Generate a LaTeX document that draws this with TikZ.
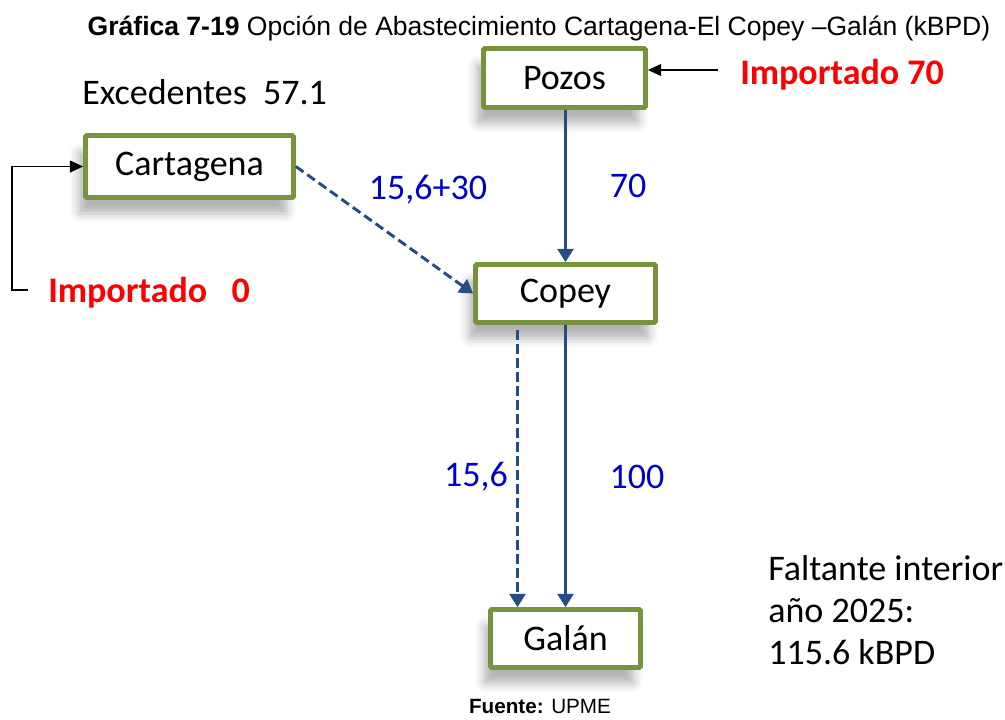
\documentclass[tikz,border=0pt]{standalone}
\usepackage{fontspec}
\setmainfont{Carlito}
\newfontfamily\arialfont{Liberation Sans}
\usetikzlibrary{arrows.meta,shadows.blur}

\definecolor{boxgreen}{RGB}{119,147,60}
\definecolor{flowblue}{RGB}{37,76,135}
\definecolor{lblblue}{RGB}{0,0,204}

\begin{document}
\begin{tikzpicture}[
  x=0.75pt, y=-0.75pt,
  font=\fontsize{27}{32}\selectfont,
  box/.style={draw=boxgreen, line width=3.6pt, fill=white, rounded corners=1pt,
    inner sep=0pt,
    blur shadow={shadow xshift=-5pt, shadow yshift=-12pt, shadow blur radius=7pt,
      shadow opacity=30}},
  lbl/.style={text=lblblue, inner sep=0pt},
  imp/.style={text=red, font=\fontsize{27}{32}\selectfont\bfseries, inner sep=0pt, anchor=west},
  note/.style={inner sep=0pt},
  arr/.style={-{Triangle[length=10pt, width=12pt]}, line width=2.2pt, draw=flowblue},
  darr/.style={arr, dash pattern=on 7pt off 3.5pt},
  blk/.style={-{Triangle[length=10pt, width=9pt]}, line width=1.1pt, draw=black},
]
  \useasboundingbox (0,0) rectangle (1005,719);

  % ===== title =====
  \node[note, font=\arialfont\fontsize{19.9}{23}\selectfont] (title) at (539,28)
    {\textbf{Gráfica 7-19} Opción de Abastecimiento Cartagena-El Copey –Galán (kBPD)};

  % ===== boxes =====
  \node[box, minimum width=121.5pt, minimum height=44.25pt] (pozos) at (564.5,78) {Pozos};
  \node[box, minimum width=156pt, minimum height=46.5pt] (cart) at (189.5,166.5) {Cartagena};
  \node[box, minimum width=135pt, minimum height=43.5pt] (copey) at (565.5,293.5) {Copey};
  \node[box, minimum width=112.5pt, minimum height=43.5pt] (galan) at (565.5,638.5) {Galán};

  % ===== flows =====
  \draw[arr] (copey.north |- pozos.south) -- (copey.north);
  \draw[darr] (cart.east) -- (copey.west);
  \draw[darr] ([xshift=-36pt,yshift=-4pt]copey.south) -- ([xshift=-36pt]galan.north);
  \draw[arr] (copey.south) -- (galan.north);

  \node[lbl] (l1) at (428,190) {15,6+30};
  \node[lbl] (l2) at (628,186) {70};
  \node[lbl] (l3) at (476,477) {15,6};
  \node[lbl] (l4) at (637,477) {100};

  % ===== imports =====
  \node[imp] (imp70) at (740,75) {Importado 70};
  \coordinate (s70) at (718,70);
  \draw[blk] (s70) -- (s70 -| pozos.east);

  \node[imp] (imp0) at (48,293) {Importado\ \ \ 0};
  \coordinate (s0) at (28,290);
  \draw[blk] (s0) -- ++(-16,0) |- (cart.west);

  % ===== notes =====
  \node[note, anchor=west] (exc) at (82,92) {Excedentes\ \ 57.1};
  \node[note, anchor=north west, align=left, font=\fontsize{27}{31.5}\selectfont] (falt) at (768,555)
    {Faltante interior\\año 2025:\\115.6 kBPD};
  \node[note, font=\arialfont\fontsize{15.5}{18}\selectfont] (src) at (540,706)
    {\textbf{Fuente:} UPME};
\end{tikzpicture}
\end{document}
